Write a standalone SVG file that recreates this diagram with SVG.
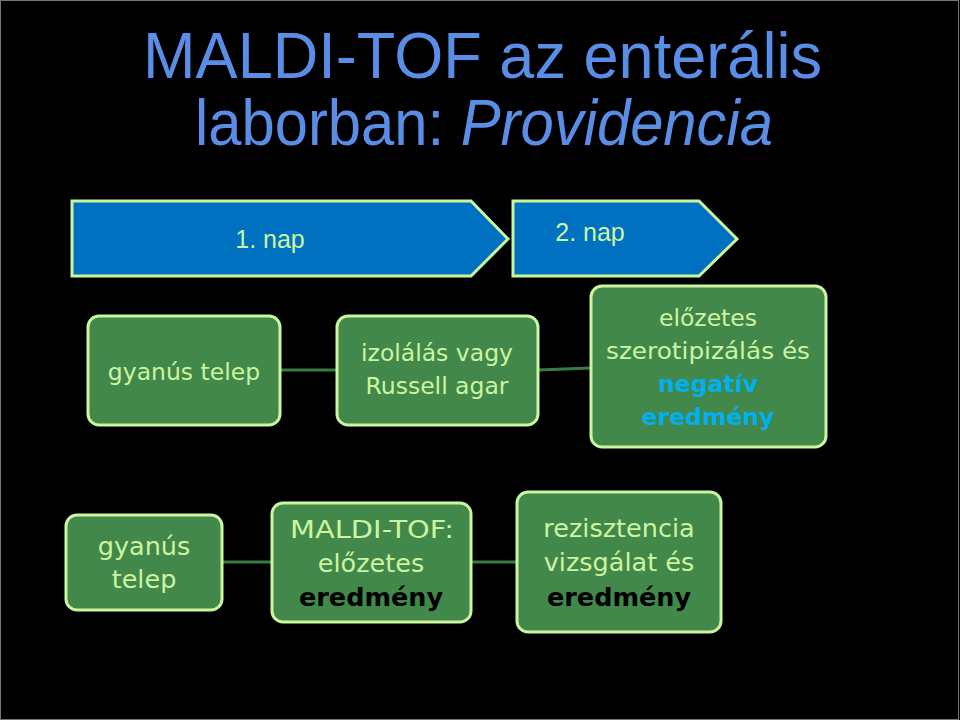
<svg xmlns="http://www.w3.org/2000/svg" width="960" height="720" viewBox="0 0 960 720">
<style>
.title{font-family:"Liberation Sans",Arial,sans-serif;font-size:64px;fill:#5A8DE6}
.chev{fill:#0070C0;stroke:#CCF5A0;stroke-width:3}
.chevt{font-family:"Liberation Sans",Arial,sans-serif;font-size:25px;fill:#CCF5A0}
.box{fill:#41884A;stroke:#CCF5A0;stroke-width:3}
.t{font-family:"DejaVu Sans","Open Sans",sans-serif;fill:#CCF5A0;text-anchor:middle}
.r1{font-size:23.5px}
.r2{font-size:25.5px}
.blue{fill:#00B0F0;font-weight:bold}
.blk{fill:#000;font-weight:bold}
.conn{stroke:#3C7A45;stroke-width:3;fill:none}
</style>
<rect x="0" y="0" width="960" height="720" fill="#000"/>
<rect x="0.5" y="0.5" width="958" height="719" fill="none" stroke="#777" stroke-width="1"/>
<g id="title">
<text class="title" x="143" y="78" textLength="679" lengthAdjust="spacingAndGlyphs">MALDI-TOF az enterális</text>
<text class="title" x="195" y="145" textLength="578" lengthAdjust="spacingAndGlyphs">laborban: <tspan font-style="italic">Providencia</tspan></text>
</g>
<g id="day1">
<polygon class="chev" points="72,201 471,201 508,239 471,276 72,276"/>
<text class="chevt" x="270" y="248" text-anchor="middle">1. nap</text>
</g>
<g id="day2">
<polygon class="chev" points="513,201 699,201 737,239 699,276 513,276"/>
<text class="chevt" x="590" y="241" text-anchor="middle">2. nap</text>
</g>
<g id="connectors">
<line class="conn" x1="280" y1="370" x2="337" y2="370"/>
<line class="conn" x1="538" y1="370" x2="591" y2="368"/>
<line class="conn" x1="222" y1="562" x2="272" y2="562"/>
<line class="conn" x1="471" y1="562" x2="517" y2="562"/>
</g>
<g id="n1">
<rect class="box" x="88" y="316" width="192" height="109" rx="11"/>
<text class="t r1" x="184" y="380">gyanús telep</text>
</g>
<g id="n2">
<rect class="box" x="337" y="316" width="201" height="109" rx="11"/>
<text class="t r1" x="437" y="361">izolálás vagy</text>
<text class="t r1" x="437" y="394">Russell agar</text>
</g>
<g id="n3">
<rect class="box" x="591" y="286" width="235" height="161" rx="11"/>
<text class="t r1" x="708" y="326">előzetes</text>
<text class="t r1" x="708" y="359" textLength="204" lengthAdjust="spacingAndGlyphs">szerotipizálás és</text>
<text class="t r1 blue" x="708" y="392">negatív</text>
<text class="t r1 blue" x="708" y="425">eredmény</text>
</g>
<g id="n4">
<rect class="box" x="66" y="515" width="156" height="95" rx="11"/>
<text class="t r2" x="144" y="555">gyanús</text>
<text class="t r2" x="144" y="588">telep</text>
</g>
<g id="n5">
<rect class="box" x="272" y="503" width="199" height="119" rx="11"/>
<text class="t r2" x="372" y="538" textLength="164" lengthAdjust="spacingAndGlyphs">MALDI-TOF:</text>
<text class="t r2" x="371" y="572">előzetes</text>
<text class="t r2 blk" x="371" y="606">eredmény</text>
</g>
<g id="n6">
<rect class="box" x="517" y="492" width="204" height="140" rx="11"/>
<text class="t r2" x="619" y="537">rezisztencia</text>
<text class="t r2" x="619" y="571">vizsgálat és</text>
<text class="t r2 blk" x="619" y="606">eredmény</text>
</g>
</svg>
